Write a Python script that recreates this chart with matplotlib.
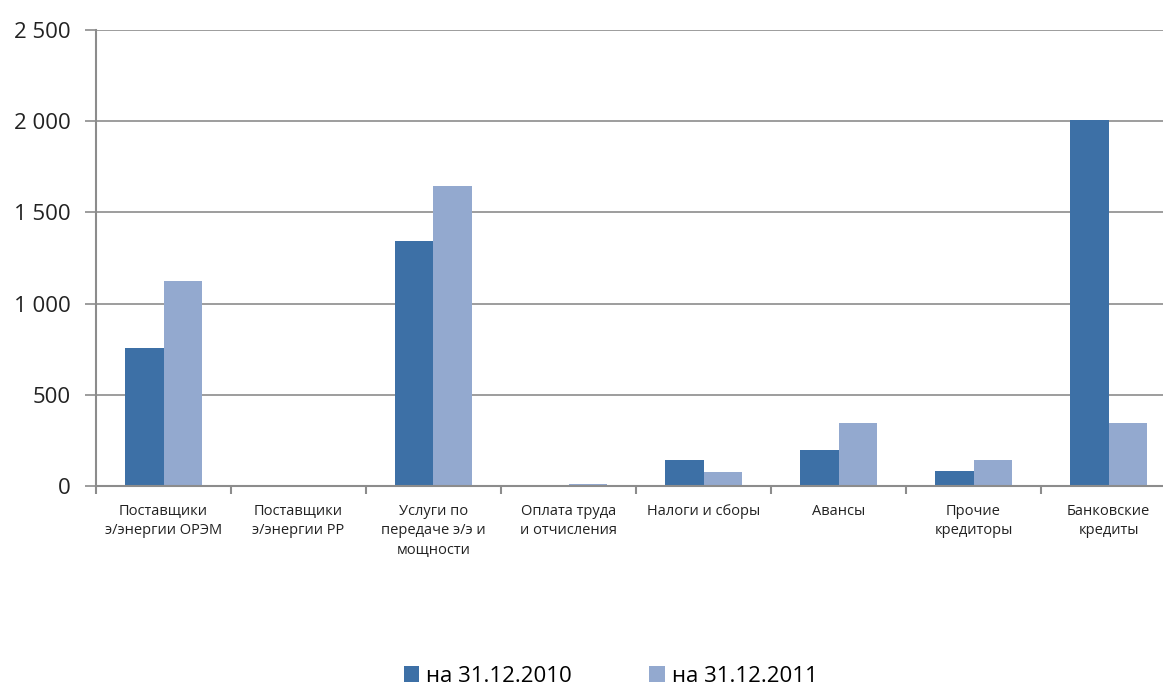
import numpy as np
import matplotlib.pyplot as plt
from matplotlib.ticker import FuncFormatter, FixedLocator

plt.rcParams['font.family'] = ['Open Sans', 'DejaVu Sans']

categories = ['Поставщики\nэ/энергии ОРЭМ', 'Поставщики\nэ/энергии РР',
              'Услуги по\nпередаче э/э и\nмощности', 'Оплата труда\nи отчисления',
              'Налоги и сборы', 'Авансы', 'Прочие\nкредиторы', 'Банковские\nкредиты']
vals_2010 = [757, 0, 1343, 0, 143, 197, 82, 2007]
vals_2011 = [1124, 0, 1645, 10, 77, 345, 143, 345]
labels = ['на 31.12.2010', 'на 31.12.2011']

c_dark = '#3D70A6'
c_light = '#93A9CF'
grey = '#8C8C8C'

fig = plt.figure(figsize=(11.63, 6.86), dpi=100)
W, H = 1163, 686
ax = fig.add_axes([96 / W, (H - 486) / H, (1176 - 96) / W, (486 - 30) / H])

x = np.arange(len(categories))
w = 0.286
b1 = ax.bar(x - w / 2, vals_2010, w, color=c_dark, label=labels[0])
b2 = ax.bar(x + w / 2, vals_2011, w, color=c_light, label=labels[1])

ax.set_xlim(-0.5, len(categories) - 0.5)
ax.set_ylim(0, 2500)
ax.set_yticks(np.arange(0, 2501, 500))
ax.yaxis.set_major_formatter(FuncFormatter(lambda v, p: f'{int(v):,}'.replace(',', ' ')))
ax.grid(axis='y', color=grey, linewidth=1.2)
ax.set_axisbelow(True)

for s in ['top', 'right']:
    ax.spines[s].set_visible(False)
for s in ['left', 'bottom']:
    ax.spines[s].set_color(grey)
    ax.spines[s].set_linewidth(1.5)

ax.tick_params(axis='y', length=8, width=1.2, color=grey, labelsize=16, pad=10, labelcolor='#222222')

# category boundaries as major ticks, labels at centres as minor ticks
ax.xaxis.set_major_locator(FixedLocator(np.arange(-0.5, len(categories), 1)))
ax.xaxis.set_major_formatter(FuncFormatter(lambda v, p: ''))
ax.xaxis.set_minor_locator(FixedLocator(x))
ax.set_xticklabels(categories, minor=True, fontsize=10.5, linespacing=1.4, color='#222222')
ax.tick_params(axis='x', which='major', length=6, width=1.5, color=grey)
ax.tick_params(axis='x', which='minor', length=0, pad=13)

fig.legend(handles=[b1, b2], labels=labels, loc='center', bbox_to_anchor=(0.525, 1 - 676 / H),
           ncol=2, frameon=False, fontsize=16, handlelength=0.7, handleheight=0.7,
           handletextpad=0.3, columnspacing=3.5)

fig.savefig('out.png', dpi=100)
